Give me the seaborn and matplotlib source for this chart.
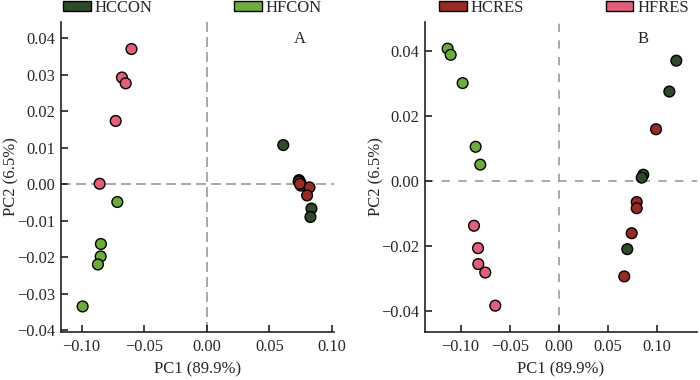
import numpy as np
import pandas as pd
import seaborn as sns
from matplotlib import pyplot as plt
from matplotlib.patches import Patch

# 颜色
PALETTE = {"HCCON": "#2d4a29", "HFCON": "#6cab3c", "HCRES": "#952b22", "HFRES": "#e0607a"}

# 图A 数据
a_hccon_x = [0.0610, 0.0736, 0.0747, 0.0835, 0.0827]
a_hccon_y = [0.0107, 0.0011, 0.0004, -0.0067, -0.0090]
a_hfcon_x = [-0.0715, -0.0846, -0.0848, -0.0870, -0.0992]
a_hfcon_y = [-0.0049, -0.0164, -0.0198, -0.0220, -0.0335]
a_hcres_x = [0.0733, 0.0750, 0.0819, 0.0800, 0.0742]
a_hcres_y = [0.0007, -0.0004, -0.0009, -0.0031, 0.0001]
a_hfres_x = [-0.0602, -0.0678, -0.0648, -0.0728, -0.0856]
a_hfres_y = [0.0370, 0.0292, 0.0276, 0.0173, 0.0001]

# 图B 数据
b_hccon_x = [0.1200, 0.1129, 0.0863, 0.0847, 0.0700]
b_hccon_y = [0.0370, 0.0275, 0.0019, 0.0010, -0.0210]
b_hfcon_x = [-0.1133, -0.1102, -0.0980, -0.0847, -0.0800]
b_hfcon_y = [0.0407, 0.0388, 0.0301, 0.0105, 0.0050]
b_hcres_x = [0.0993, 0.0796, 0.0796, 0.0745, 0.0669]
b_hcres_y = [0.0159, -0.0065, -0.0084, -0.0161, -0.0294]
b_hfres_x = [-0.0864, -0.0823, -0.0820, -0.0749, -0.0647]
b_hfres_y = [-0.0138, -0.0207, -0.0256, -0.0282, -0.0384]


def make_df(groups):
    rows = []
    for name, xs, ys in groups:
        for x, y in zip(xs, ys):
            rows.append({"PC1": x, "PC2": y, "group": name})
    return pd.DataFrame(rows)


df_a = make_df([("HFCON", a_hfcon_x, a_hfcon_y), ("HFRES", a_hfres_x, a_hfres_y),
                ("HCCON", a_hccon_x, a_hccon_y), ("HCRES", a_hcres_x, a_hcres_y)])
df_b = make_df([("HFCON", b_hfcon_x, b_hfcon_y), ("HFRES", b_hfres_x, b_hfres_y),
                ("HCCON", b_hccon_x, b_hccon_y), ("HCRES", b_hcres_x, b_hcres_y)])

sns.set_theme(style="ticks")
plt.rcParams['font.family'] = ['Liberation Serif', 'DejaVu Serif']
plt.rcParams['axes.unicode_minus'] = True
plt.rcParams['font.size'] = 12

fig = plt.figure(figsize=(7, 3.8), dpi=100)
W, H = 700, 380
ax_a = fig.add_axes([60.7 / W, 1 - 332 / H, (334 - 60.7) / W, (332 - 22) / H])
ax_b = fig.add_axes([424.7 / W, 1 - 332 / H, (697 - 424.7) / W, (332 - 22) / H])


def draw(ax, df, xlim, ylim, yticks, dashes, tag, tag_x, ylab_x):
    ax.axhline(0, color="#9a9a9a", lw=1.2, dashes=dashes, zorder=0)
    ax.axvline(0, color="#9a9a9a", lw=1.2, dashes=dashes, zorder=0)
    sns.scatterplot(data=df, x="PC1", y="PC2", hue="group", palette=PALETTE,
                    s=60, edgecolor="black", linewidth=1.0, legend=False, ax=ax, zorder=3)
    ax.set_xlim(*xlim)
    ax.set_ylim(*ylim)
    ax.set_xticks([-0.10, -0.05, 0.00, 0.05, 0.10])
    ax.set_xticklabels(["\u22120.10", "\u22120.05", "0.00", "0.05", "0.10"])
    ax.set_yticks(yticks)
    ax.set_yticklabels([("\u2212%.2f" % -v) if v < 0 else "%.2f" % v for v in yticks])
    ax.set_xlabel("PC1 (89.9%)", fontsize=12)
    ax.set_ylabel("PC2 (6.5%)", fontsize=12)
    ax.xaxis.set_label_coords(0.5, -(361 - 332) / 310, transform=ax.transAxes)
    ax.yaxis.set_label_coords(ylab_x, 0.5, transform=ax.transAxes)
    for side in ["top", "right"]:
        ax.spines[side].set_visible(False)
    for side in ["left", "bottom"]:
        ax.spines[side].set_linewidth(1.2)
        ax.spines[side].set_color("#222222")
    ax.tick_params(direction="in", length=5, width=1.2, color="#222222", labelsize=11.8)
    ax.tick_params(axis="x", pad=5)
    ax.tick_params(axis="y", pad=4)
    ax.text(tag_x, 0.945, tag, transform=ax.transAxes, ha="center", va="center", fontsize=12)


draw(ax_a, df_a, (-0.1167, 0.1015), (-0.0405, 0.0444),
     [-0.04, -0.03, -0.02, -0.01, 0.00, 0.01, 0.02, 0.03, 0.04], (6, 3), "A",
     (300 - 60.7) / (334 - 60.7), (19 - 60.7) / (334 - 60.7))
draw(ax_b, df_b, (-0.1367, 0.1411), (-0.0465, 0.0489),
     [-0.04, -0.02, 0.00, 0.02, 0.04], (5, 5), "B",
     (643 - 424.7) / (697 - 424.7), (384 - 424.7) / (697 - 424.7))


def top_legend(names, x):
    handles = [Patch(facecolor=PALETTE[n], edgecolor="black", linewidth=1.0, label=n) for n in names]
    fig.legend(handles=handles, loc="center left", bbox_to_anchor=(x / W, 1 - 8 / H), ncol=2,
               frameon=False, fontsize=12, handlelength=1.65, handleheight=0.5,
               handletextpad=0.25, columnspacing=4.9, borderpad=0, borderaxespad=0)


top_legend(["HCCON", "HFCON"], 63)
top_legend(["HCRES", "HFRES"], 439)

plt.savefig("out.png", dpi=100)
